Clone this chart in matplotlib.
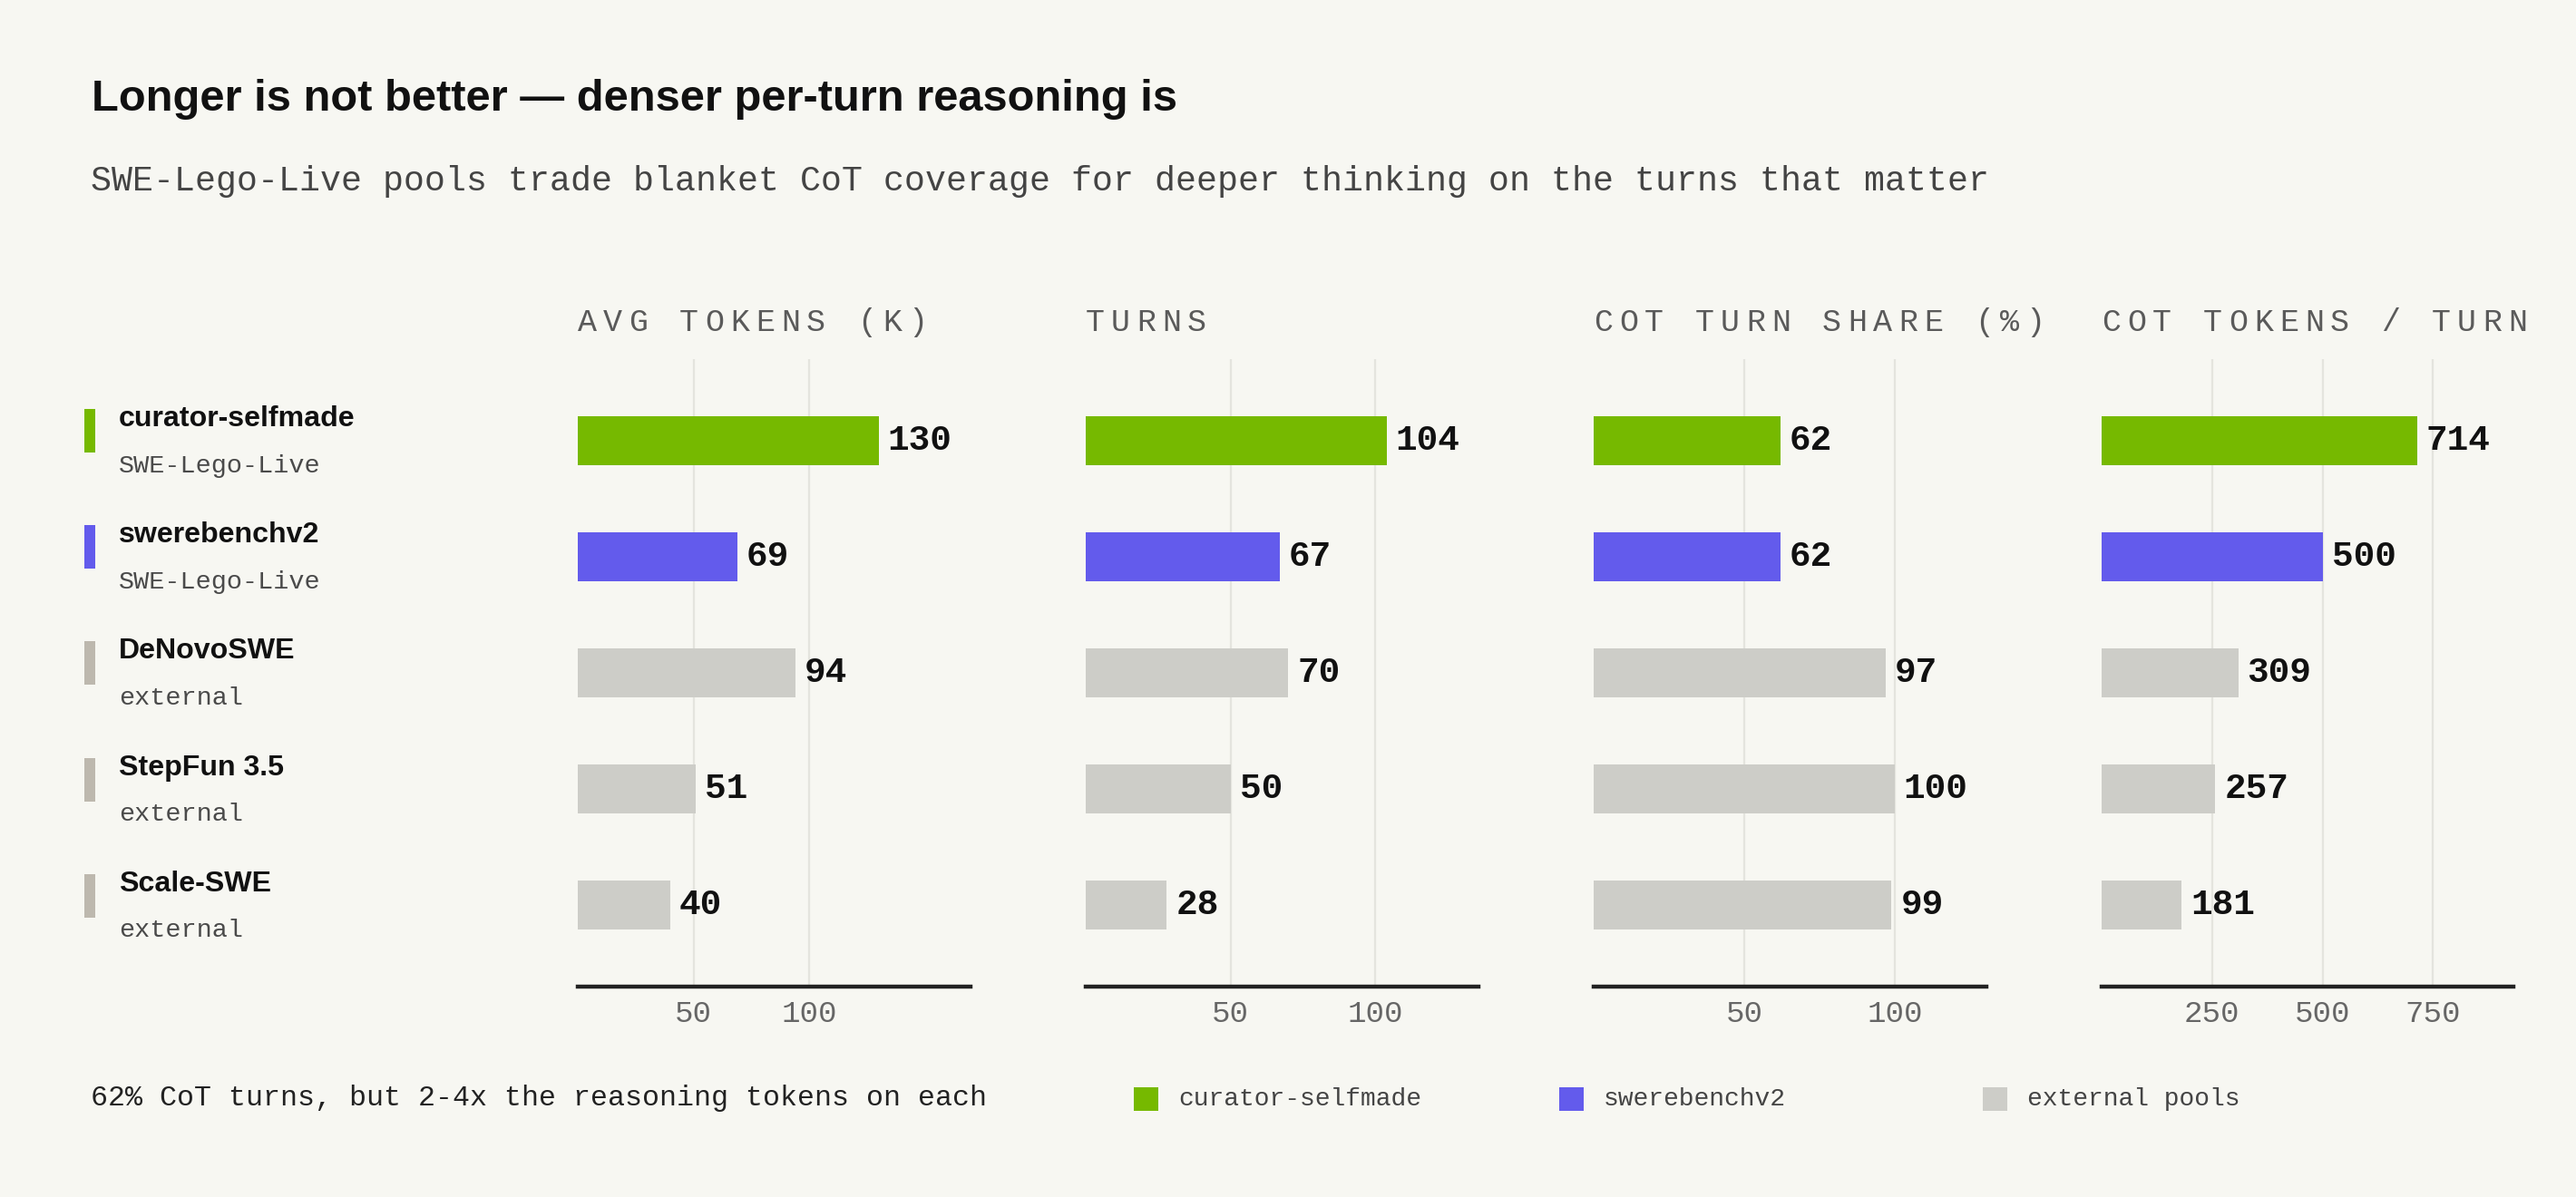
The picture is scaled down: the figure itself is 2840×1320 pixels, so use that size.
import matplotlib
matplotlib.use('Agg')
import matplotlib.pyplot as plt
import matplotlib.transforms as mtransforms
from matplotlib.patches import Rectangle

# data
models = ['curator-selfmade', 'swerebenchv2', 'DeNovoSWE', 'StepFun 3.5', 'Scale-SWE']
sources = ['SWE-Lego-Live', 'SWE-Lego-Live', 'external', 'external', 'external']
avg_tokens = [130, 69, 94, 51, 40]
turns = [104, 67, 70, 50, 28]
cot_share = [62, 62, 97, 100, 99]
cot_tokens = [714, 500, 309, 257, 181]
headers = ['AVG TOKENS (K)', 'TURNS', 'COT TURN SHARE (%)', 'COT TOKENS / TURN']
ticks = [[50, 100], [50, 100], [50, 100], [250, 500, 750]]
legend_labels = ['curator-selfmade', 'swerebenchv2', 'external pools']

title = 'Longer is not better \u2014 denser per-turn reasoning is'
subtitle = 'SWE-Lego-Live pools trade blanket CoT coverage for deeper thinking on the turns that matter'
footer = '62% CoT turns, but 2-4x the reasoning tokens on each'

BG = '#f7f7f2'
GREEN = '#76b900'
PURPLE = '#635bec'
GRAY = '#cdcdc8'
MARK_GRAY = '#bdb8ae'
GRID = '#e4e4de'

bar_colors = [GREEN, PURPLE, GRAY, GRAY, GRAY]
mark_colors = [GREEN, PURPLE, MARK_GRAY, MARK_GRAY, MARK_GRAY]
legend_colors = [GREEN, PURPLE, GRAY]

SANS = 'Liberation Sans'
MONO = 'Liberation Mono'
plt.rcParams['font.family'] = MONO

W, H = 2840, 1320
DPI = 200


def fx(x):
    return x / W


def fy(y):
    return 1 - y / H


fig = plt.figure(figsize=(W / DPI, H / DPI), dpi=DPI, facecolor=BG)

fig.text(fx(101), fy(122), title, family=SANS, weight='bold', fontsize=17.6,
         color='#111111', va='baseline', ha='left')
fig.text(fx(100), fy(210), subtitle, family=MONO, fontsize=13.75,
         color='#444444', va='baseline', ha='left')

series = [avg_tokens, turns, cot_share, cot_tokens]
lefts = [637, 1197, 1757, 2317]
widths = [433, 433, 433, 454]
top, bottom = 396, 1088
rows = list(range(len(models)))

axes = []
for k, vals in enumerate(series):
    ax = fig.add_axes([fx(lefts[k]), fy(bottom), widths[k] / W, (bottom - top) / H])
    ax.set_facecolor('none')
    ax.barh(rows, vals, height=0.42, color=bar_colors, zorder=2)
    ax.set_xlim(0, max(vals) * 1.305)
    ax.set_ylim(4.7, -0.7)
    ax.set_xticks(ticks[k])
    ax.set_yticks([])
    ax.grid(axis='x', color=GRID, lw=0.8)
    ax.set_axisbelow(True)
    for s in ['top', 'left', 'right']:
        ax.spines[s].set_visible(False)
    ax.spines['bottom'].set_color('#222222')
    ax.spines['bottom'].set_linewidth(1.6)
    ax.tick_params(axis='x', length=0, pad=5.5, labelsize=12.3, labelcolor='#666666')
    for i, v in enumerate(vals):
        ax.annotate(str(v), (v, i), xytext=(3.6, 0), textcoords='offset points',
                    va='center', ha='left', family=MONO, weight='bold',
                    fontsize=14.2, color='#111111')
    # letter-spaced header
    for j, ch in enumerate(headers[k]):
        fig.text(fx(lefts[k] + 10.5 + 28 * j), fy(365), ch, family=MONO,
                 fontsize=12.6, color='#5a5a5a', va='baseline', ha='center')
    axes.append(ax)

# left labels
ax0 = axes[0]
trans = mtransforms.blended_transform_factory(fig.transFigure, ax0.transData)
name_tr = mtransforms.offset_copy(trans, fig=fig, y=5.6, units='points')
sub_tr = mtransforms.offset_copy(trans, fig=fig, y=-12.6, units='points')
for i in rows:
    ax0.add_patch(Rectangle((fx(93), i - 0.27), 12 / W, 0.375, transform=trans,
                            color=mark_colors[i], clip_on=False, lw=0))
    ax0.text(fx(131), i, models[i], transform=name_tr, family=SANS, weight='bold',
             fontsize=11.55, color='#111111', va='baseline', ha='left', clip_on=False)
    ax0.text(fx(131), i, sources[i], transform=sub_tr, family=MONO,
             fontsize=10.25, color='#4a4a4a', va='baseline', ha='left', clip_on=False)

# footer and legend
fig.text(fx(100), fy(1219), footer, family=MONO, fontsize=11.4, color='#222222',
         va='baseline', ha='left')
sq_x = [1250, 1719, 2186]
for lab, col, x in zip(legend_labels, legend_colors, sq_x):
    fig.add_artist(Rectangle((fx(x), fy(1225)), 27 / W, 26 / H,
                             transform=fig.transFigure, color=col, lw=0))
    fig.text(fx(x + 49), fy(1219), lab, family=MONO, fontsize=10.1, color='#444444',
             va='baseline', ha='left')

fig.savefig('out.png', dpi=DPI, facecolor=BG)
